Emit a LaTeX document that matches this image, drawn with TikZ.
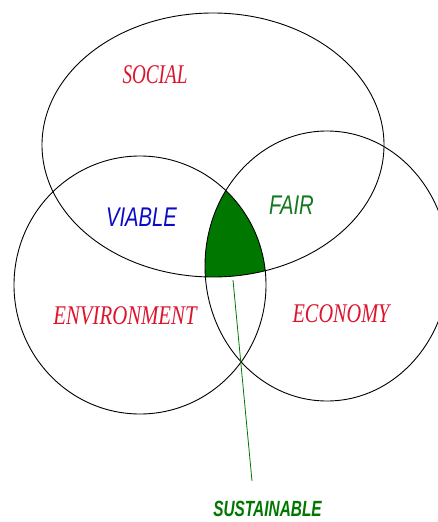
\documentclass[tikz,border=0pt]{standalone}
\usepackage{fontspec}
\usepackage{graphicx}
\setmainfont{Liberation Serif}
\setsansfont{Liberation Sans}
\definecolor{lblred}{RGB}{222,20,45}
\definecolor{lblblue}{RGB}{10,10,200}
\definecolor{lblgreen}{RGB}{20,120,30}
\definecolor{fillgreen}{RGB}{0,120,0}
\tikzset{
  ring/.style={draw=black, line width=0.9pt},
  serlabel/.style={text=lblred, inner sep=0pt, font=\fontsize{27}{27}\selectfont\itshape},
  sanlabel/.style={inner sep=0pt, font=\fontsize{27}{27}\selectfont\sffamily\itshape},
  boldlabel/.style={text=fillgreen, inner sep=0pt, font=\fontsize{22}{22}\selectfont\sffamily\bfseries\itshape},
  pointer/.style={draw=fillgreen, line width=0.8pt}
}
\begin{document}
\begin{tikzpicture}[x=1pt,y=-1pt]
\useasboundingbox (0,0) rectangle (438,522);
\fill[white] (0,0) rectangle (438,522);
\begin{scope}
\clip (0,0) rectangle (438,522);
% triple intersection
\begin{scope}
\clip (213,145) ellipse [x radius=171pt, y radius=132pt];
\clip (140,285) ellipse [x radius=126pt, y radius=129pt];
\fill[fillgreen] (327,266) ellipse [x radius=122pt, y radius=135pt];
\end{scope}
\draw[ring] (213,145) ellipse [x radius=171pt, y radius=132pt];
\draw[ring] (140,285) ellipse [x radius=126pt, y radius=129pt];
\draw[ring] (327,266) ellipse [x radius=122pt, y radius=135pt];
\end{scope}
\node[serlabel] (social) at (155,75) {\scalebox{0.71}[1]{SOCIAL}};
\node[serlabel] (environment) at (125,316) {\scalebox{0.77}[1]{ENVIRONMENT}};
\node[serlabel] (economy) at (341,314) {\scalebox{0.75}[1]{ECONOMY}};
\node[sanlabel, text=lblblue] (viable) at (141.5,217.5) {\scalebox{0.75}[1]{VIABLE}};
\node[sanlabel, text=lblgreen] (fair) at (291.5,205) {\scalebox{0.75}[1]{FAIR}};
\node[boldlabel] (sustainable) at (267.5,509) {\scalebox{0.7}[1]{SUSTAINABLE}};
\coordinate (core) at (233,280);
\coordinate (lineend) at (252,481);
\draw[pointer] (core) -- (lineend);
\end{tikzpicture}
\end{document}
